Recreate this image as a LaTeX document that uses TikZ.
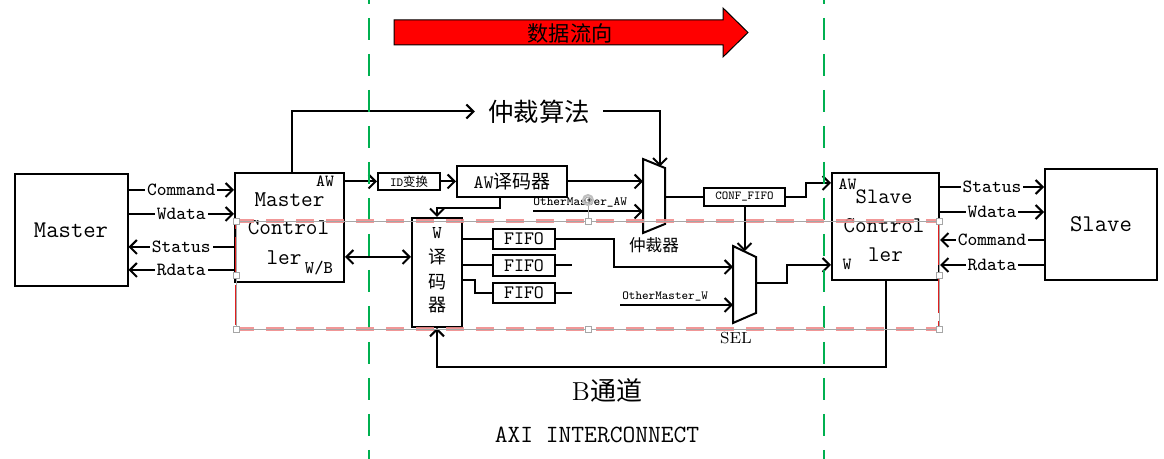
\documentclass[tikz,border=0pt]{standalone}
\usepackage{fontspec}
\newfontfamily\cjk{Noto Sans CJK SC}
\usetikzlibrary{arrows.meta,calc}
\newcommand{\fsz}[1]{\fontsize{#1}{#1}\selectfont}
\definecolor{dgreen}{RGB}{0,176,80}
\definecolor{selpink}{RGB}{240,140,140}
\definecolor{selred}{RGB}{225,30,30}
\begin{document}
\begin{tikzpicture}[x=0.5pt,y=-0.5pt,
  lw/.style={line width=1pt},
  blk/.style={draw, lw, inner sep=0pt},
  conn/.style={lw, -{Straight Barb[length=3.5pt,width=7pt]}},
  conn2/.style={lw, {Straight Barb[length=3.5pt,width=7pt]}-{Straight Barb[length=3.5pt,width=7pt]}},
  sig/.style={fill=white, inner xsep=1pt, inner ysep=0pt, font=\ttfamily\fsz{9.3}},
  txt/.style={inner sep=0pt},
  tt/.style={txt, font=\ttfamily\fsz{#1}},
  cj/.style={txt, font=\cjk\fsz{#1}},
  guide/.style={dgreen, line width=1pt, dash pattern=on 11pt off 7pt, dash phase=9pt},
  handle/.style={fill=white, draw=gray!70, line width=0.4pt}]
\useasboundingbox (0,0) rectangle (1164,459);

% ---- y levels
\coordinate (y181) at (0,181.5);
\coordinate (y183) at (0,183);
\coordinate (y187) at (0,187);
\coordinate (y190) at (0,190);
\coordinate (y212) at (0,212);
\coordinate (y214) at (0,214);
\coordinate (y240) at (0,240);
\coordinate (y247) at (0,247);
\coordinate (y257) at (0,257);
\coordinate (y265) at (0,265);
\coordinate (y270) at (0,270);
\coordinate (y280) at (0,280);
\coordinate (y367) at (0,367);

% ---- data-flow arrow
\draw[fill=red, line width=0.5pt] (394,20) -- (723,20) -- (723,8) -- (748,32.5) -- (723,57) -- (723,45) -- (394,45) -- cycle;
\node[cj=10.6] (flow) at (570,33) {数据流向};

% ---- main blocks
\node[blk, minimum width=56.5pt, minimum height=56pt, font=\ttfamily\fsz{12}] (master) at (71,230.5) {Master};
\node[blk, minimum width=54.5pt, minimum height=54.5pt] (mc) at (289.5,227.5) {};
\node[blk, minimum width=53.5pt, minimum height=53.5pt] (sc) at (885.5,226.5) {};
\node[blk, minimum width=56pt, minimum height=55.5pt, font=\ttfamily\fsz{12}] (slave) at (1101,224.5) {Slave};

% master controller text
\node[tt=11.3] (mct1) at (289.5,199.5) {Master};
\node[tt=11.3] (mct2) at (288.5,228) {Control};
\node[tt=11.3] (mct3) at (284,258) {ler};
\node[tt=8.5] (mcaw) at (325,181.5) {AW};
\node[tt=8.9] (mcwb) at (319,268) {W/B};
% slave controller text
\node[tt=11] (sct1) at (884,197) {Slave};
\node[tt=11.2] (sct2) at (884,226) {Control};
\node[tt=11.2] (sct3) at (885.5,255) {ler};
\node[tt=8.5] (scaw) at (847.5,184) {AW};
\node[tt=8.5] (scw) at (847,264) {W};

% ---- interconnect blocks
\node[blk, minimum width=31pt, minimum height=8.5pt, font=\fsz{6.2}] (idb) at (409,181.5) {\ttfamily ID\cjk 变换};
\node[blk, minimum width=55pt, minimum height=15.5pt, font=\fsz{9.5}] (awd) at (512,181.5) {\ttfamily AW\cjk 译码器};
\node[blk, minimum width=25pt, minimum height=54.5pt] (wdec) at (437,272.5) {};
\node[tt=9] (wd1) at (437,233) {W};
\node[cj=9] (wd2) at (437,257) {译};
\node[cj=9] (wd3) at (437,282) {码};
\node[cj=9] (wd4) at (437,305) {器};
\node[blk, minimum width=31pt, minimum height=10pt, font=\ttfamily\fsz{9.5}] (fifo1) at (524,239) {FIFO};
\node[blk, minimum width=31pt, minimum height=10.5pt, font=\ttfamily\fsz{9.5}] (fifo2) at (524,265.5) {FIFO};
\node[blk, minimum width=31pt, minimum height=10pt, font=\ttfamily\fsz{9.5}] (fifo3) at (524,293) {FIFO};
\node[blk, minimum width=40.5pt, minimum height=9pt, font=\ttfamily\fsz{6.1}] (conf) at (744.5,197) {CONF\_FIFO};

% arbiter mux
\draw[lw] (643,159) -- (665,168) -- (665,224) -- (643,233) -- cycle;
\coordinate (arbTop) at (660,166.5);
\coordinate (arbIn1) at (643,181.5);
\coordinate (arbIn2) at (643,211.5);
\coordinate (arbOut) at (665,197);
\node[cj=8.3] (arblbl) at (654,245) {仲裁器};
% SEL mux
\draw[lw] (733,246) -- (756,257) -- (756,313) -- (733,323) -- cycle;
\coordinate (selTop) at (744.5,251.5);
\coordinate (selIn1) at (733,267);
\coordinate (selIn2) at (733,305);
\coordinate (selOut) at (756,283);
\node[txt, font=\rmfamily\fsz{8}] (sellbl) at (736,338) {SEL};

% arbitration algorithm
\node[cj=12.7, inner xsep=6.5pt] (alg) at (539,111.5) {仲裁算法};

% ---- master side signals
\draw[conn] (master.east |- y190) -- node[sig] (lc) {Command} (mc.west |- y190);
\draw[conn] (master.east |- y214) -- node[sig] (lw) {Wdata} (mc.west |- y214);
\draw[conn] (mc.west |- y247) -- node[sig] (ls) {Status} (master.east |- y247);
\draw[conn] (mc.west |- y270) -- node[sig] (lr) {Rdata} (master.east |- y270);
% ---- slave side signals
\draw[conn] (sc.east |- y187) -- node[sig] (rs) {Status} (slave.west |- y187);
\draw[conn] (sc.east |- y212) -- node[sig] (rw) {Wdata} (slave.west |- y212);
\draw[conn] (slave.west |- y240) -- node[sig] (rc) {Command} (sc.east |- y240);
\draw[conn] (slave.west |- y265) -- node[sig] (rr) {Rdata} (sc.east |- y265);

% ---- AW path
\draw[conn] ($(mc.north)+(2,0)$) |- (alg.west);
\draw[conn] (alg.east) -| (arbTop);
\draw[conn] (mc.east |- y181) -- (idb.west);
\draw[conn] (idb.east) -- (awd.west);
\draw[conn] (awd.east) -- (arbIn1);
\draw[conn] ($(awd.south)+(-12,0)$) |- ($(wdec.north)+(0,-9)$) -- (wdec.north);
\coordinate (omaw) at (533,211.5);
\draw[conn] (omaw) -- (arbIn2);
\node[tt=6.3, anchor=south west] (omawl) at (533,208) {OtherMaster\_AW};
\draw[lw] (arbOut) -- (conf.west);
\draw[conn] (conf.east) -- ++(20,0) |- (sc.west |- y183);
\draw[conn] (conf.south) -- (selTop);

% ---- W path
\draw[conn2] (mc.east |- y257) -- (wdec.west |- y257);
\draw[lw] (wdec.east |- fifo1.west) -- (fifo1.west);
\draw[lw] (wdec.east |- fifo2.west) -- (fifo2.west);
\draw[lw] (wdec.east |- y280) -- ++(12,0) |- (fifo3.west);
\draw[lw] (fifo2.east) -- ++(16,0);
\draw[lw] (fifo3.east) -- ++(16,0);
\draw[conn] (fifo1.east) -- ++(58,0) |- (selIn1);
\coordinate (omw) at (620,305);
\draw[conn] (omw) -- (selIn2);
\node[tt=6.2, anchor=south west] (omwl) at (622,302) {OtherMaster\_W};
\draw[conn] (selOut) -- ++(31,0) |- (sc.west |- y265);

% ---- B channel
\draw[conn] (sc.south) |- (wdec.south |- y367) -- (wdec.south);
\node[txt] (bch) at (607,390) {{\rmfamily\fsz{13}B}{\cjk\fsz{13}通道}};
\node[tt=12.4] (axi) at (597,435) {AXI INTERCONNECT};

% ---- green guides
\draw[guide] (369,0) -- (369,459);
\draw[guide] (824,0) -- (824,459);

% ---- selection frame
\draw[selpink, line width=1.6pt, dash pattern=on 9pt off 6pt, opacity=0.9] (236,221) -- (939,221);
\draw[selpink, line width=1.6pt, dash pattern=on 9pt off 6pt, opacity=0.9] (236,329) -- (939,329);
\draw[selred, line width=1pt, dash pattern=on 20pt off 4pt, dash phase=-8pt] (236,221) -- (236,329);
\draw[selred, line width=1pt, dash pattern=on 20pt off 4pt, dash phase=-2pt] (939,221) -- (939,329);
\draw[gray!70, line width=0.4pt] (236,221) rectangle (939,329);
\draw[gray!70, line width=0.4pt] (588,221) -- (588,205);
\draw[gray!50, line width=1pt] (588,200) circle (5);
\draw[gray!70, line width=0.5pt] (588,200) circle (3);
\foreach \p in {(236,221),(588,221),(939,221),(236,275),(939,275),(236,329),(588,329),(939,329)}
  \draw[handle] \p ++(-3,-3) rectangle ++(6,6);
\end{tikzpicture}
\end{document}
